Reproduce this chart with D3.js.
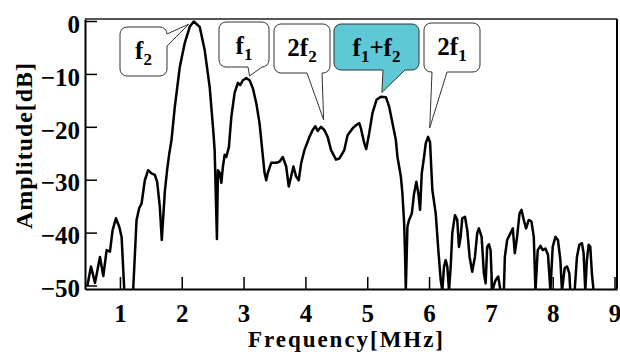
<!DOCTYPE html>
<html>
<head>
<meta charset="utf-8">
<script src="https://cdn.jsdelivr.net/npm/d3@7"></script>
<style>
  body { margin: 0; background: #fff; }
  svg text { font-family: "Liberation Serif", Tinos, "Times New Roman", Times, "DejaVu Serif", serif; font-weight: bold; fill: #000; }
</style>
</head>
<body>
<svg id="spectrum" width="620" height="354"></svg>
<script>
// spectrum: frequency in MHz, amplitude in dB
var freq = [0.473, 0.532, 0.597, 0.677, 0.731, 0.785, 0.839, 0.882, 0.935, 0.989,
  1.027, 1.069, 1.12, 1.17, 1.215, 1.269, 1.311, 1.35, 1.403, 1.456,
  1.511, 1.565, 1.602, 1.645, 1.677, 1.726, 1.763, 1.795, 1.834, 1.887,
  1.968, 2.048, 2.129, 2.194, 2.29, 2.371, 2.452, 2.505, 2.532, 2.569,
  2.585, 2.613, 2.64, 2.666, 2.694, 2.721, 2.763, 2.802, 2.855, 2.908,
  2.947, 2.989, 3.044, 3.097, 3.15, 3.205, 3.258, 3.302, 3.339, 3.366,
  3.392, 3.447, 3.527, 3.581, 3.634, 3.689, 3.731, 3.769, 3.806, 3.85,
  3.892, 3.931, 3.984, 4.027, 4.065, 4.118, 4.161, 4.198, 4.253, 4.306,
  4.36, 4.415, 4.495, 4.548, 4.629, 4.682, 4.763, 4.818, 4.871, 4.898,
  4.952, 4.984, 5.032, 5.085, 5.15, 5.221, 5.302, 5.355, 5.408, 5.463,
  5.489, 5.544, 5.569, 5.597, 5.613, 5.624, 5.65, 5.677, 5.721, 5.758,
  5.795, 5.827, 5.855, 5.882, 5.919, 5.947, 5.984, 6.016, 6.053, 6.108,
  6.15, 6.189, 6.215, 6.242, 6.269, 6.295, 6.323, 6.35, 6.376, 6.419,
  6.456, 6.484, 6.511, 6.537, 6.581, 6.618, 6.656, 6.698, 6.742, 6.779,
  6.806, 6.85, 6.887, 6.915, 6.94, 6.968, 6.995, 7.021, 7.076, 7.118,
  7.156, 7.21, 7.226, 7.263, 7.318, 7.355, 7.387, 7.424, 7.463, 7.495,
  7.532, 7.569, 7.613, 7.656, 7.694, 7.721, 7.758, 7.802, 7.839, 7.882,
  7.924, 7.963, 8.0, 8.044, 8.085, 8.124, 8.15, 8.194, 8.231, 8.269,
  8.285, 8.355, 8.392, 8.431, 8.473, 8.5, 8.527, 8.553, 8.581, 8.608,
  8.634, 8.661];
var amplitude = [-50.1, -46.4, -49.5, -44.6, -48.2, -43.3, -43.6, -39.5, -37.3, -38.9,
  -40.8, -50.6, -56, -56, -50.6, -37.6, -35.4, -34.5, -30.1, -28.2,
  -28.8, -29.1, -30.4, -35.1, -41.4, -32.3, -28.2, -25.3, -22.5, -16.3,
  -8.7, -4.2, -1.1, -0.1, -1.1, -5.5, -12.5, -20.0, -24.4, -41.2,
  -28.2, -28.7, -30.6, -27.5, -25.3, -25.7, -23.8, -18.1, -13.6, -11.7,
  -12.1, -11.2, -10.8, -11.2, -12.7, -15.5, -19.3, -24.4, -28.7, -30.1,
  -28.7, -26.8, -26.8, -26.6, -25.7, -27.5, -31.3, -29.4, -27.5, -29.4,
  -30.1, -26.9, -24.4, -23.1, -21.9, -20.6, -19.9, -20.8, -20.0, -20.6,
  -21.9, -24.4, -26.2, -26.0, -24.4, -21.6, -20.3, -19.7, -19.3, -20.3,
  -23.1, -24.2, -21.2, -17.4, -14.9, -14.3, -14.4, -16.2, -19.3, -22.5,
  -25.7, -29.4, -32.6, -38.2, -44.6, -51, -38.9, -37.6, -36.4, -32.6,
  -30.4, -32.6, -35.7, -28.8, -25.7, -23.1, -21.9, -22.9, -31.9, -36.4,
  -43.3, -49.0, -51, -46.4, -45.2, -46.4, -51, -46.4, -40.1, -36.7,
  -37.6, -42.7, -40.8, -37.3, -37.0, -39.5, -44.6, -47.4, -44.6, -40.1,
  -39.2, -40.8, -47.7, -49.6, -42.7, -42.2, -43.3, -51, -49.0, -48.3,
  -51, -51, -44.6, -41.4, -40.1, -39.2, -43.9, -40.8, -36.4, -35.7,
  -37.6, -39.2, -37.6, -37.9, -40.8, -51, -43.3, -42.5, -43.3, -43.0,
  -44.2, -51, -42.7, -40.8, -41.4, -45.2, -51, -46.7, -46.4, -47.7,
  -51, -51, -44.6, -42.3, -42.0, -43.9, -51, -45.2, -42.3, -42.7,
  -47.7, -51];

var xTicks = [1, 2, 3, 4, 5, 6, 7, 8, 9];
var yTicks = [0, -10, -20, -30, -40, -50];

// callout labels ("_n" = subscript) and the points they point at
var annLabels = ["f_2", "f_1", "2f_2", "f_1+f_2", "2f_1"];
var annFreq = [2.113, 3.097, 4.295, 5.237, 6.011];
var annDb = [-0.6, -10.4, -18.7, -13.5, -20.2];

// box layout for the callouts (pixels), tail side and tail base
var boxes = [
  {x: 120, y: 27, w: 47, h: 49, side: "right", t0: 34, t1: 46, fill: "#fff"},
  {x: 219, y: 22, w: 50, h: 45, side: "bottom", t0: 248, t1: 262, fill: "#fff"},
  {x: 274, y: 24, w: 56, h: 49, side: "bottom", t0: 307, t1: 322, fill: "#fff"},
  {x: 334, y: 24, w: 85, h: 46, side: "bottom", t0: 383, t1: 405, fill: "#5ec8d6"},
  {x: 424, y: 23, w: 56, h: 49, side: "bottom", t0: 432, t1: 447, fill: "#fff"}
];

var serif = '"Liberation Serif", Tinos, "Times New Roman", Times, "DejaVu Serif", serif';

var svg = d3.select("svg#spectrum");
var plot = {left: 85, right: 617, top: 19, bottom: 289};

var x = d3.scaleLinear().domain([0.435, 9.04]).range([plot.left, plot.right]);
var y = d3.scaleLinear().domain([-50.66, 0.38]).range([plot.bottom, plot.top]);

svg.append("clipPath").attr("id", "plotclip")
  .append("rect")
    .attr("x", plot.left).attr("y", plot.top)
    .attr("width", plot.right - plot.left).attr("height", plot.bottom - plot.top);

// frame: top edge is grey in the original, right edge black
svg.append("line")
  .attr("x1", plot.left).attr("x2", plot.right).attr("y1", plot.top).attr("y2", plot.top)
  .attr("stroke", "#555").attr("stroke-width", 2);
svg.append("line")
  .attr("x1", plot.right).attr("x2", plot.right).attr("y1", plot.top).attr("y2", plot.bottom)
  .attr("stroke", "#000").attr("stroke-width", 2);

var xAxis = svg.append("g")
  .attr("transform", "translate(0," + plot.bottom + ")")
  .call(d3.axisBottom(x).tickValues(xTicks).tickFormat(d3.format("d"))
    .tickSizeInner(-12).tickSizeOuter(0).tickPadding(15));

var yAxis = svg.append("g")
  .attr("transform", "translate(" + plot.left + ",0)")
  .call(d3.axisLeft(y).tickValues(yTicks).tickFormat(d3.format("d"))
    .tickSizeInner(-12).tickSizeOuter(0).tickPadding(5));

[xAxis, yAxis].forEach(function(g) {
  g.attr("font-family", serif).attr("font-size", 25).attr("font-weight", "bold");
  g.select(".domain").attr("stroke", "#000").attr("stroke-width", 2);
  g.selectAll(".tick line").attr("stroke", "#000").attr("stroke-width", 1.5);
  g.selectAll(".tick text").attr("fill", "#000");
});
yAxis.selectAll(".tick text").attr("dy", "0.45em");

var line = d3.line()
  .x(function(d) { return x(d[0]); })
  .y(function(d) { return y(d[1]); });

svg.append("path")
  .datum(d3.zip(freq, amplitude))
  .attr("clip-path", "url(#plotclip)")
  .attr("fill", "none")
  .attr("stroke", "#000")
  .attr("stroke-width", 2.5)
  .attr("stroke-linejoin", "round")
  .attr("d", line);

// axis titles
svg.append("text")
  .attr("x", 345.5).attr("y", 347)
  .attr("text-anchor", "middle")
  .attr("font-family", serif)
  .attr("font-size", 23)
  .attr("textLength", 195).attr("lengthAdjust", "spacing")
  .text("Frequency[MHz]");

svg.append("text")
  .attr("transform", "translate(32,146) rotate(-90)")
  .attr("text-anchor", "middle")
  .attr("font-family", serif)
  .attr("font-size", 24)
  .attr("textLength", 166).attr("lengthAdjust", "spacing")
  .text("Amplitude[dB]");

// rounded box with an open tail running to the tip point
function calloutPath(b, tip) {
  var r = 7, x0 = b.x, y0 = b.y, x1 = b.x + b.w, y1 = b.y + b.h;
  var p = d3.path();
  p.moveTo(x0 + r, y0);
  p.lineTo(x1 - r, y0);
  p.arcTo(x1, y0, x1, y0 + r, r);
  if (b.side === "right") {
    p.lineTo(x1, b.t0);
    p.lineTo(tip[0], tip[1]);
    p.lineTo(x1, b.t1);
  }
  p.lineTo(x1, y1 - r);
  p.arcTo(x1, y1, x1 - r, y1, r);
  if (b.side === "bottom") {
    p.lineTo(b.t1, y1);
    p.lineTo(tip[0], tip[1]);
    p.lineTo(b.t0, y1);
  }
  p.lineTo(x0 + r, y1);
  p.arcTo(x0, y1, x0, y1 - r, r);
  p.lineTo(x0, y0 + r);
  p.arcTo(x0, y0, x0 + r, y0, r);
  p.closePath();
  return p.toString();
}

var ann = svg.selectAll(".callout")
  .data(annLabels)
  .enter().append("g")
    .attr("class", "callout");

ann.append("path")
  .attr("d", function(d, i) { return calloutPath(boxes[i], [x(annFreq[i]), y(annDb[i])]); })
  .attr("fill", function(d, i) { return boxes[i].fill; })
  .attr("stroke", "#333")
  .attr("stroke-width", 1);

ann.append("text")
  .attr("x", function(d, i) { return boxes[i].x + boxes[i].w / 2; })
  .attr("y", function(d, i) { return boxes[i].y + 32; })
  .attr("text-anchor", "middle")
  .attr("font-family", serif)
  .attr("font-size", 25)
  .each(function(d) {
    var t = d3.select(this);
    var parts = d.split(/(_\d)/).filter(function(s) { return s.length; });
    parts.forEach(function(s) {
      if (s[0] === "_") {
        t.append("tspan").attr("font-size", 17).attr("dy", 6).text(s.slice(1));
      } else {
        var sp = t.append("tspan").text(s);
        if (t.selectAll("tspan").size() > 1) sp.attr("dy", -6);
      }
    });
  });
</script>
</body>
</html>
